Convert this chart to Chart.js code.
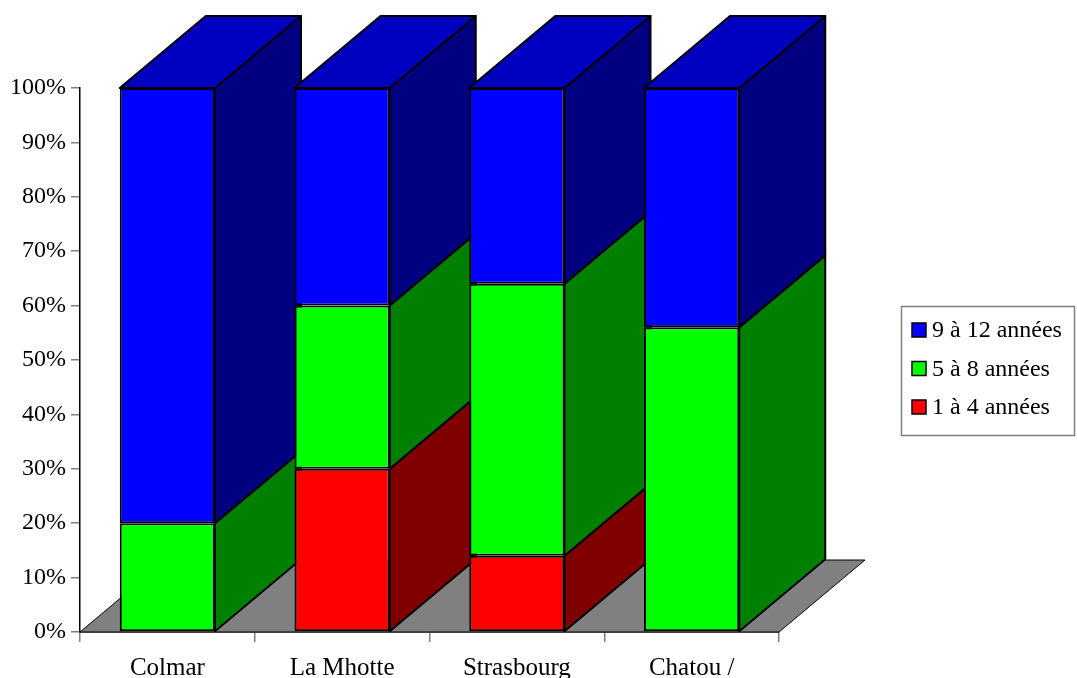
<!DOCTYPE html>
<html>
<head>
<meta charset="utf-8">
<script src="https://cdn.jsdelivr.net/npm/chart.js@4/dist/chart.umd.min.js"></script>
<style>
  html, body { margin: 0; padding: 0; background: #fff; }
  #wrap { width: 1077px; height: 678px; }
</style>
</head>
<body>
<div id="wrap"><canvas id="c" width="1077" height="678"></canvas></div>
<script>
// Sites and share of students per length of schooling (100% stacked)
const categories = ['Colmar', 'La Mhotte', 'Strasbourg', 'Chatou /'];
const years1to4  = [0, 30, 14, 0];
const years5to8  = [20, 30, 50, 56];
const years9to12 = [80, 40, 36, 44];
const yTicks = [0, 10, 20, 30, 40, 50, 60, 70, 80, 90, 100];

// Depth of the extruded bars, in pixels
const DEPTH_X = 86, DEPTH_Y = 72;

function poly(ctx, pts, fill) {
  ctx.beginPath();
  ctx.moveTo(pts[0][0], pts[0][1]);
  for (let i = 1; i < pts.length; i++) ctx.lineTo(pts[i][0], pts[i][1]);
  ctx.closePath();
  ctx.fillStyle = fill;
  ctx.fill();
  ctx.stroke();
}

// Floor, side faces and top faces drawn behind Chart.js's front faces
const extrude = {
  id: 'extrude',
  beforeDatasetsDraw(chart) {
    const ctx = chart.ctx;
    const a = chart.chartArea;
    ctx.save();
    ctx.strokeStyle = '#000';
    ctx.lineJoin = 'round';
    ctx.lineWidth = 1;
    poly(ctx, [[a.left, a.bottom], [a.right, a.bottom],
               [a.right + DEPTH_X, a.bottom - DEPTH_Y], [a.left + DEPTH_X, a.bottom - DEPTH_Y]], '#808080');
    ctx.lineWidth = 2;
    const n = chart.data.labels.length;
    for (let i = 0; i < n; i++) {
      let topSeg = null;
      chart.data.datasets.forEach((ds, d) => {
        const bar = chart.getDatasetMeta(d).data[i];
        const top = Math.min(bar.y, bar.base), bottom = Math.max(bar.y, bar.base);
        if (bottom - top < 0.5) return;
        const right = bar.x + bar.width / 2;
        poly(ctx, [[right, bottom], [right + DEPTH_X, bottom - DEPTH_Y],
                   [right + DEPTH_X, top - DEPTH_Y], [right, top]], ds.sideColor);
        topSeg = { bar, ds, top };
      });
      if (topSeg) {
        const { bar, ds, top } = topSeg;
        const left = bar.x - bar.width / 2, right = bar.x + bar.width / 2;
        poly(ctx, [[left, top], [right, top], [right + DEPTH_X, top - DEPTH_Y],
                   [left + DEPTH_X, top - DEPTH_Y]], ds.topColor);
      }
    }
    ctx.restore();
  }
};

// Boxed legend on the right, top series first
const boxLegend = {
  id: 'boxLegend',
  afterDraw(chart) {
    const ctx = chart.ctx;
    ctx.save();
    ctx.strokeStyle = '#808080';
    ctx.lineWidth = 1.5;
    ctx.strokeRect(901.5, 306.5, 173, 129);
    const items = chart.data.datasets.slice().reverse();
    ctx.font = '24px "Liberation Serif"';
    ctx.textBaseline = 'middle';
    ctx.textAlign = 'left';
    items.forEach((ds, k) => {
      const cy = 330 + k * 38.5;
      ctx.fillStyle = ds.backgroundColor;
      ctx.fillRect(912, cy - 7, 14, 14);
      ctx.strokeStyle = '#000';
      ctx.lineWidth = 1.5;
      ctx.strokeRect(912, cy - 7, 14, 14);
      ctx.fillStyle = '#000';
      ctx.fillText(ds.label, 932, cy + 1);
    });
    ctx.restore();
  }
};

Chart.defaults.font.family = '"Liberation Serif", "Times New Roman", serif';
Chart.defaults.font.size = 24;
Chart.defaults.color = '#000';

const barStyle = { borderColor: '#000', borderWidth: 2, borderSkipped: false,
                   barPercentage: 0.545, categoryPercentage: 1 };

new Chart(document.getElementById('c'), {
  type: 'bar',
  data: {
    labels: categories,
    datasets: [
      Object.assign({ label: '1 à 4 années', data: years1to4, backgroundColor: '#ff0000',
                      sideColor: '#800000', topColor: '#c00000' }, barStyle),
      Object.assign({ label: '5 à 8 années', data: years5to8, backgroundColor: '#00ff00',
                      sideColor: '#008000', topColor: '#00c000' }, barStyle),
      Object.assign({ label: '9 à 12 années', data: years9to12, backgroundColor: '#0000ff',
                      sideColor: '#000080', topColor: '#0000c0' }, barStyle)
    ]
  },
  options: {
    responsive: false,
    animation: false,
    layout: { padding: { left: 0, top: 88, right: 298, bottom: 0 } },
    plugins: { legend: { display: false }, tooltip: { enabled: false } },
    scales: {
      x: {
        stacked: true,
        offset: true,
        grid: { offset: true, drawOnChartArea: false, tickLength: 10, color: '#808080', lineWidth: 1.5 },
        border: { color: '#000', width: 1.5 },
        ticks: { padding: 11, font: { size: 25 } },
        afterFit(s) { s.height = 46; }
      },
      y: {
        stacked: true,
        min: 0,
        max: 100,
        afterBuildTicks(s) { s.ticks = yTicks.map(v => ({ value: v })); },
        grid: { drawOnChartArea: false, tickLength: 9, color: '#808080', lineWidth: 1.5 },
        border: { color: '#000', width: 1.5 },
        ticks: { padding: 5, font: { size: 24 }, callback: v => v + '%' },
        afterFit(s) { s.width = 80; }
      }
    }
  },
  plugins: [extrude, boxLegend]
});
</script>
</body>
</html>
